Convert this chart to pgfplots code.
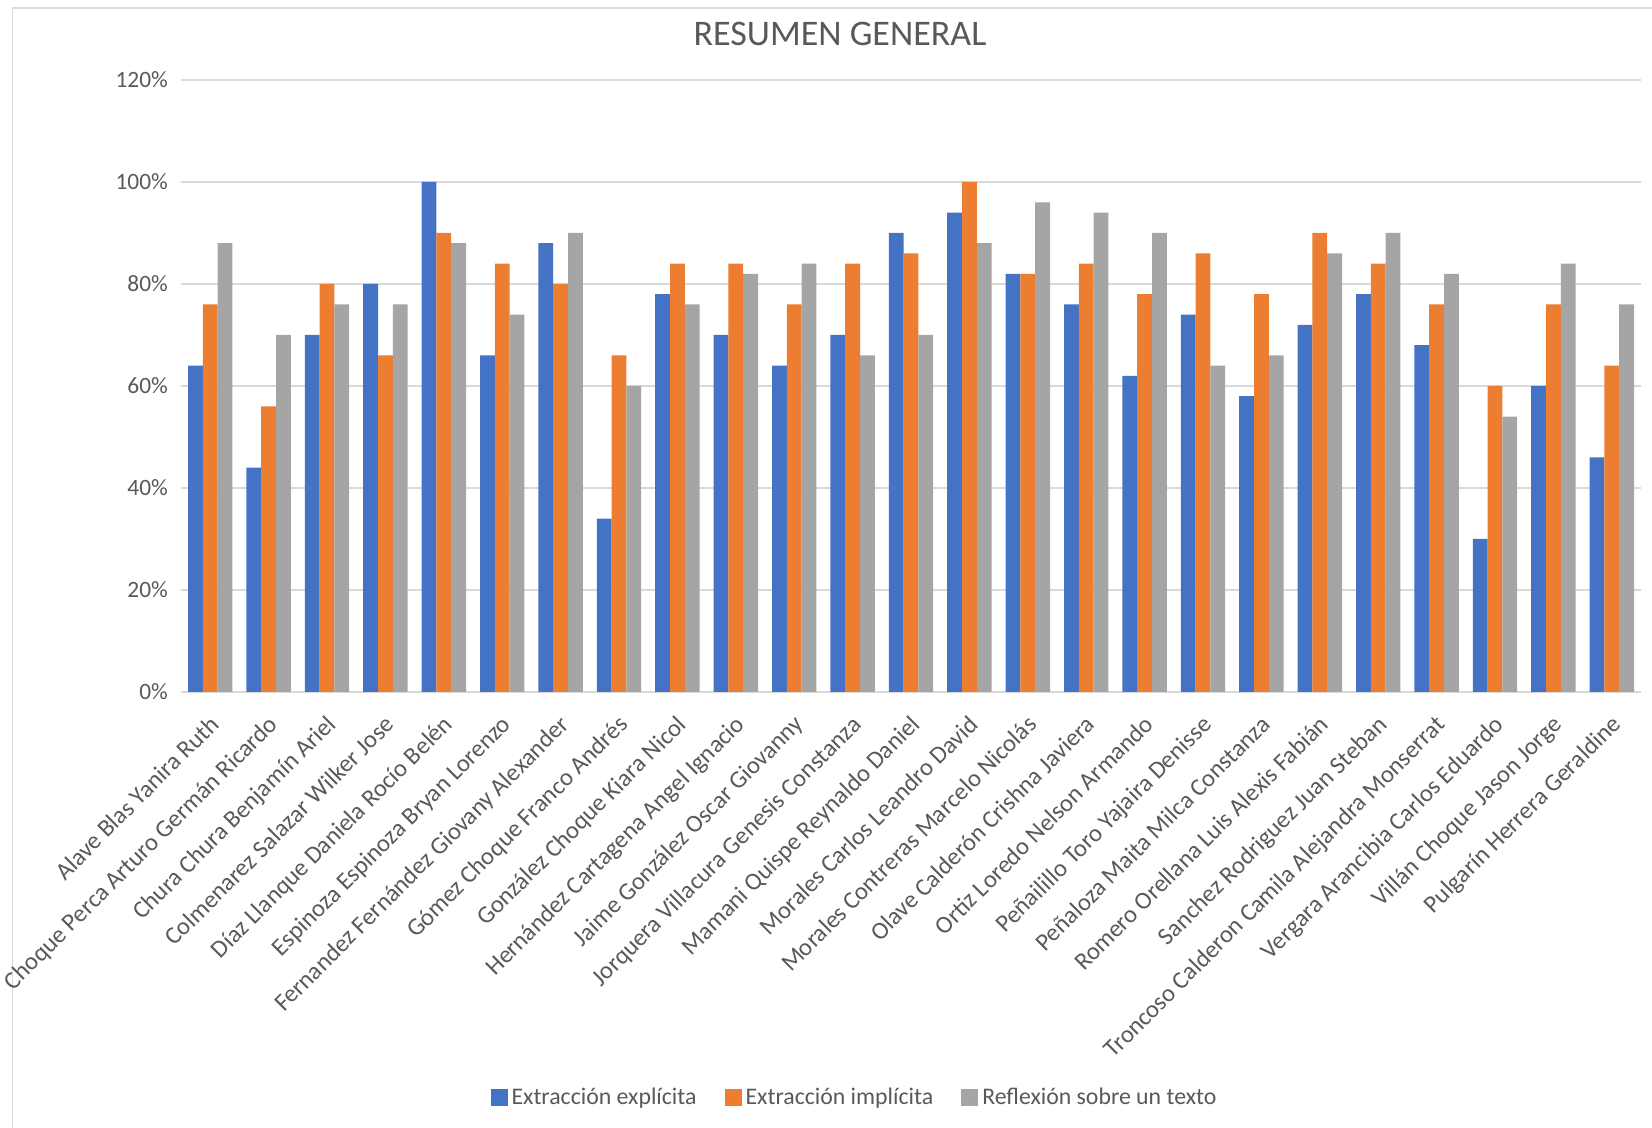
\documentclass[border=0pt]{standalone}
\usepackage{pgfplots}
\pgfplotsset{compat=1.18}
\usepackage{fontspec}
\setmainfont{Carlito}
\definecolor{cblue}{HTML}{4472C4}
\definecolor{corange}{HTML}{ED7D31}
\definecolor{cgray}{HTML}{A5A5A5}
\definecolor{gridgray}{HTML}{D9D9D9}
\definecolor{textgray}{HTML}{595959}
\begin{document}
\begin{tikzpicture}
\path[use as bounding box] (0,0) rectangle (826pt,564pt);
\draw[gridgray, line width=0.6pt] (6.3pt,0) -- (6.3pt,560pt) -- (826pt,560pt);
\node[font=\fontsize{18}{20}\selectfont, text=textgray] at (420pt,547pt) {RESUMEN GENERAL};
\begin{axis}[
  at={(90.5pt,218pt)}, anchor=south west,
  scale only axis, width=730pt, height=306pt,
  ybar=0pt, bar width=7.4pt,
  xmin=-0.5, xmax=24.5, ymin=0, ymax=120,
  ytick={0,20,40,60,80,100,120},
  yticklabels={0\%,20\%,40\%,60\%,80\%,100\%,120\%},
  ymajorgrids, grid style={draw=gridgray, line width=0.8pt},
  axis x line*=bottom, axis y line*=left,
  y axis line style={draw=none},
  x axis line style={draw=gridgray, line width=0.8pt},
  major tick length=0pt,
  tick label style={font=\fontsize{11.7}{12}\selectfont, text=textgray},
  yticklabel style={xshift=-3pt},
  xtick={0,...,24},
  xticklabel style={font=\fontsize{12.3}{13}\selectfont, xshift=-1pt, yshift=-6pt, rotate=45, anchor=north east},
  xticklabels={Alave Blas Yanira Ruth, Choque Perca Arturo Germán Ricardo, Chura Chura Benjamín Ariel, Colmenarez Salazar Wilker Jose, Díaz Llanque Daniela Rocío Belén, Espinoza Espinoza Bryan Lorenzo, Fernandez Fernández Giovany Alexander, Gómez Choque Franco Andrés, González Choque Kiara Nicol, Hernández Cartagena Angel Ignacio, Jaime González Oscar Giovanny, Jorquera Villacura Genesis Constanza, Mamani Quispe Reynaldo Daniel, Morales Carlos Leandro David, Morales Contreras Marcelo Nicolás, Olave Calderón Crishna Javiera, Ortiz Loredo Nelson Armando, Peñailillo Toro Yajaira Denisse, Peñaloza Maita Milca Constanza, Romero Orellana Luis Alexis Fabián, Sanchez Rodriguez Juan Steban, Troncoso Calderon Camila Alejandra Monserrat, Vergara Arancibia Carlos Eduardo, Villán Choque Jason Jorge, Pulgarín Herrera Geraldine},
  legend style={at={(0.462,-0.663)}, anchor=center, draw=none, legend columns=3,
    font=\fontsize{11.9}{12}\selectfont, text=textgray,
    /tikz/every even column/.append style={column sep=12pt}},
  legend image code/.code={\fill[#1] (-1pt,-4.2pt) rectangle (7.5pt,4.2pt);},
]
\addplot[fill=cblue, draw=none] coordinates {(0,64) (1,44) (2,70) (3,80) (4,100) (5,66) (6,88) (7,34) (8,78) (9,70) (10,64) (11,70) (12,90) (13,94) (14,82) (15,76) (16,62) (17,74) (18,58) (19,72) (20,78) (21,68) (22,30) (23,60) (24,46)};
\addplot[fill=corange, draw=none] coordinates {(0,76) (1,56) (2,80) (3,66) (4,90) (5,84) (6,80) (7,66) (8,84) (9,84) (10,76) (11,84) (12,86) (13,100) (14,82) (15,84) (16,78) (17,86) (18,78) (19,90) (20,84) (21,76) (22,60) (23,76) (24,64)};
\addplot[fill=cgray, draw=none] coordinates {(0,88) (1,70) (2,76) (3,76) (4,88) (5,74) (6,90) (7,60) (8,76) (9,82) (10,84) (11,66) (12,70) (13,88) (14,96) (15,94) (16,90) (17,64) (18,66) (19,86) (20,90) (21,82) (22,54) (23,84) (24,76)};
\legend{Extracción explícita, Extracción implícita, Reflexión sobre un texto}
\end{axis}
\end{tikzpicture}
\end{document}
